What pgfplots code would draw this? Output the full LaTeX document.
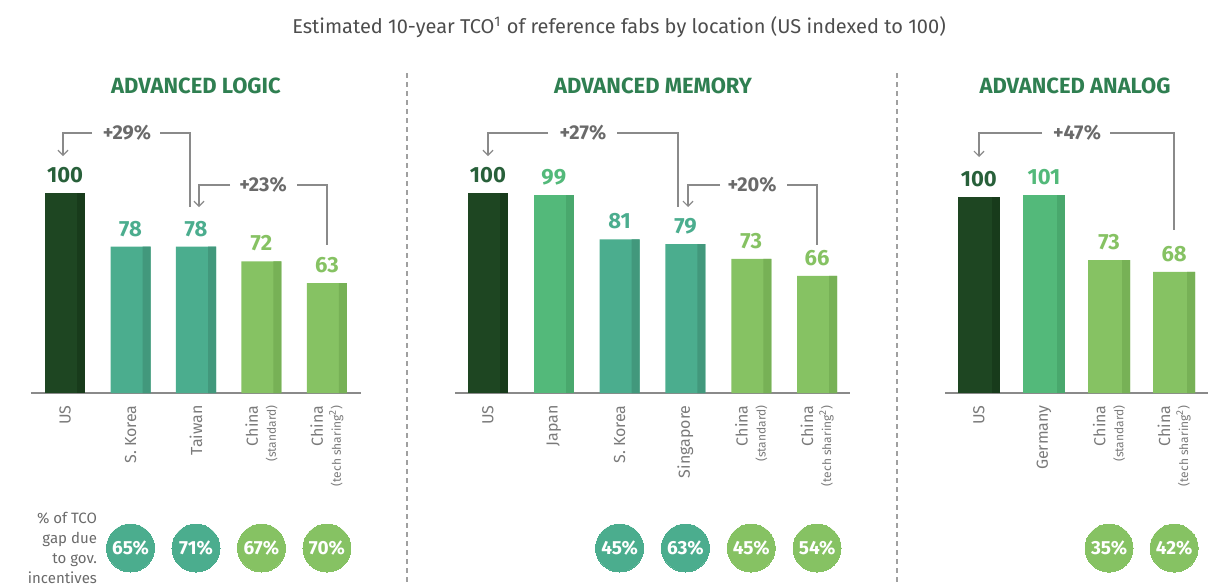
\documentclass[border=0pt]{standalone}
\usepackage{fontspec}
\setmainfont{Fira Sans}
\setsansfont{Fira Sans}
\usepackage{pgfplots}
\pgfplotsset{compat=1.18}
\usetikzlibrary{arrows.meta}
\definecolor{cUS}{HTML}{1E4622}
\definecolor{cUSd}{HTML}{183B1B}
\definecolor{lUS}{HTML}{28603A}
\definecolor{cTeal}{HTML}{4BAD8E}
\definecolor{cTeald}{HTML}{42987C}
\definecolor{cMid}{HTML}{53B97A}
\definecolor{cMidd}{HTML}{49A86D}
\definecolor{cLight}{HTML}{86C263}
\definecolor{cLightd}{HTML}{77B156}
\definecolor{hdr}{HTML}{2F7F51}
\definecolor{ttl}{HTML}{4D4D4D}
\definecolor{tick}{HTML}{7A7A7A}
\definecolor{brg}{HTML}{8A8A8A}
\definecolor{brt}{HTML}{6A6A6A}
\definecolor{sep}{HTML}{A0A0A0}
\newcommand\sub[1]{{\fontsize{6}{7}\selectfont #1}}
\pgfplotsset{
  /pgf/number format/assume math mode=true,
  fab/.style={scale only axis, clip=true, axis y line=none, axis x line*=bottom,
    x axis line style={draw=brg, line width=0.8pt, -},
    xtick style={draw=none}, major tick length=0pt, enlargelimits=false,
    xticklabel style={rotate=90, anchor=east, align=right, inner xsep=6pt, text=tick,
      font=\fontsize{8}{9}\selectfont}},
  circax/.style={scale only axis, clip=false, hide axis, enlargelimits=false},
  mbar/.style 2 args={ybar, bar shift=0pt, draw=none, fill=#1, nodes near coords,
    every node near coord/.append style={anchor=center, yshift=9pt, text=#2,
      font=\fontsize{11}{12}\selectfont\bfseries}},
  sbar/.style 2 args={ybar, bar width=4pt, bar shift=#2, draw=none, fill=#1},
  circ/.style={only marks, color=#1, mark=*, mark size=12pt, mark options={draw=#1, fill=#1, line width=0pt},
    point meta=explicit symbolic, nodes near coords,
    every node near coord/.append style={anchor=center, text=white,
      font=\fontsize{9.5}{11}\selectfont\bfseries}},
}
\begin{document}
\begin{tikzpicture}[x=0.5pt,y=-0.5pt]
\useasboundingbox (0,0) rectangle (1215,585);
% title
\node[text=ttl, font=\fontsize{10}{12}\selectfont] at (619,27) {Estimated 10-year TCO\textsuperscript{1} of reference fabs by location (US indexed to 100)};
% headers
\node[text=hdr, font=\fontsize{11}{13}\selectfont\bfseries] at (196,86) {ADVANCED LOGIC};
\node[text=hdr, font=\fontsize{11}{13}\selectfont\bfseries] at (653,86) {ADVANCED MEMORY};
\node[text=hdr, font=\fontsize{11}{13}\selectfont\bfseries] at (1075,86) {ADVANCED ANALOG};
% separators
\draw[sep, line width=0.8pt, dash pattern=on 2.5pt off 2pt] (407,73) -- (407,585);
\draw[sep, line width=0.8pt, dash pattern=on 2.5pt off 2pt] (897,73) -- (897,585);
% left text
\node[anchor=east, align=right, text=brt, font=\fontsize{7.5}{10}\selectfont] at (104,548) {\% of TCO\\gap due\\to gov.\\incentives};

% ---------- Panel 1: logic
\begin{axis}[fab, at={(15.5pt,-196.5pt)}, anchor=south west, width=165pt, height=148.8pt,
  xmin=-0.52, xmax=4.52, ymin=18, ymax=140, bar width=20pt, xtick={0,1,2,3,4},
  xticklabels={US, S. Korea, Taiwan, {China\\\sub{(standard)}}, {China\\\sub{(tech sharing\textsuperscript{2})}}}]
\addplot[mbar={cUS}{lUS}] coordinates {(0,100)};
\addplot[sbar={cUSd}{8pt}] coordinates {(0,100)};
\addplot[mbar={cTeal}{cTeal}] coordinates {(1,78) (2,78)};
\addplot[sbar={cTeald}{8pt}] coordinates {(1,78) (2,78)};
\addplot[mbar={cLight}{cLight}] coordinates {(3,72) (4,63)};
\addplot[sbar={cLightd}{8pt}] coordinates {(3,72) (4,63)};
\end{axis}
\begin{axis}[circax, at={(15.5pt,-196.5pt)}, anchor=south west, width=165pt, height=148.8pt,
  xmin=-0.52, xmax=4.52, ymin=18, ymax=140]
\addplot[circ=cTeal] coordinates {(1,-45.55) [65\%] (2,-45.55) [71\%]};
\addplot[circ=cLight] coordinates {(3,-45.55) [67\%] (4,-45.55) [70\%]};
\end{axis}

% ---------- Panel 2: memory
\begin{axis}[fab, at={(227.5pt,-196.5pt)}, anchor=south west, width=197.5pt, height=148.8pt,
  xmin=-0.5, xmax=5.5, ymin=18, ymax=140, bar width=20pt, xtick={0,1,2,3,4,5},
  xticklabels={US, Japan, S. Korea, Singapore, {China\\\sub{(standard)}}, {China\\\sub{(tech sharing\textsuperscript{2})}}}]
\addplot[mbar={cUS}{lUS}] coordinates {(0,100)};
\addplot[sbar={cUSd}{8pt}] coordinates {(0,100)};
\addplot[mbar={cMid}{cMid}] coordinates {(1,99)};
\addplot[sbar={cMidd}{8pt}] coordinates {(1,99)};
\addplot[mbar={cTeal}{cTeal}] coordinates {(2,81) (3,79)};
\addplot[sbar={cTeald}{8pt}] coordinates {(2,81) (3,79)};
\addplot[mbar={cLight}{cLight}] coordinates {(4,73) (5,66)};
\addplot[sbar={cLightd}{8pt}] coordinates {(4,73) (5,66)};
\end{axis}
\begin{axis}[circax, at={(227.5pt,-196.5pt)}, anchor=south west, width=197.5pt, height=148.8pt,
  xmin=-0.5, xmax=5.5, ymin=18, ymax=140]
\addplot[circ=cTeal] coordinates {(2,-45.55) [45\%] (3,-45.55) [63\%]};
\addplot[circ=cLight] coordinates {(4,-45.55) [45\%] (5,-45.55) [54\%]};
\end{axis}

% ---------- Panel 3: analog
\begin{axis}[fab, at={(472.5pt,-196.5pt)}, anchor=south west, width=131.5pt, height=144.8pt,
  xmin=-0.52, xmax=3.52, ymin=16.2, ymax=140, bar width=21pt, xtick={0,1,2,3},
  xticklabels={US, Germany, {China\\\sub{(standard)}}, {China\\\sub{(tech sharing\textsuperscript{2})}}}]
\addplot[mbar={cUS}{lUS}] coordinates {(0,100)};
\addplot[sbar={cUSd}{8.5pt}] coordinates {(0,100)};
\addplot[mbar={cMid}{cMid}] coordinates {(1,101)};
\addplot[sbar={cMidd}{8.5pt}] coordinates {(1,101)};
\addplot[mbar={cLight}{cLight}] coordinates {(2,73) (3,68)};
\addplot[sbar={cLightd}{8.5pt}] coordinates {(2,73) (3,68)};
\end{axis}
\begin{axis}[circax, at={(472.5pt,-196.5pt)}, anchor=south west, width=131.5pt, height=144.8pt,
  xmin=-0.52, xmax=3.52, ymin=16.2, ymax=140]
\addplot[circ=cLight] coordinates {(2,-50.1) [35\%] (3,-50.1) [42\%]};
\end{axis}

% ---------- brackets
\tikzset{br/.style={draw=brg, line width=0.6pt}, ar/.style={-{Straight Barb[length=2.5pt,width=5pt]}},
  brl/.style={text=brt, font=\fontsize{10}{11}\selectfont\bfseries}}
\draw[br, ar] (92,133) -- (63,133) -- (63,156);
\draw[br] (160,133) -- (190,133) -- (190,207);
\node[brl] at (127,133) {+29\%};
\draw[br, ar] (230,185) -- (199,185) -- (199,207);
\draw[br] (297,185) -- (327,185) -- (327,245);
\node[brl] at (263,185) {+23\%};

\draw[br, ar] (548,133) -- (488,133) -- (488,156);
\draw[br] (617,133) -- (678,133) -- (678,207);
\node[brl] at (583,133) {+27\%};
\draw[br, ar] (720,185) -- (688,185) -- (688,207);
\draw[br] (787,185) -- (817,185) -- (817,245);
\node[brl] at (752,185) {+20\%};

\draw[br, ar] (1042,133) -- (979,133) -- (979,157);
\draw[br] (1110,133) -- (1174,133) -- (1174,230);
\node[brl] at (1077,133) {+47\%};
\end{tikzpicture}
\end{document}
